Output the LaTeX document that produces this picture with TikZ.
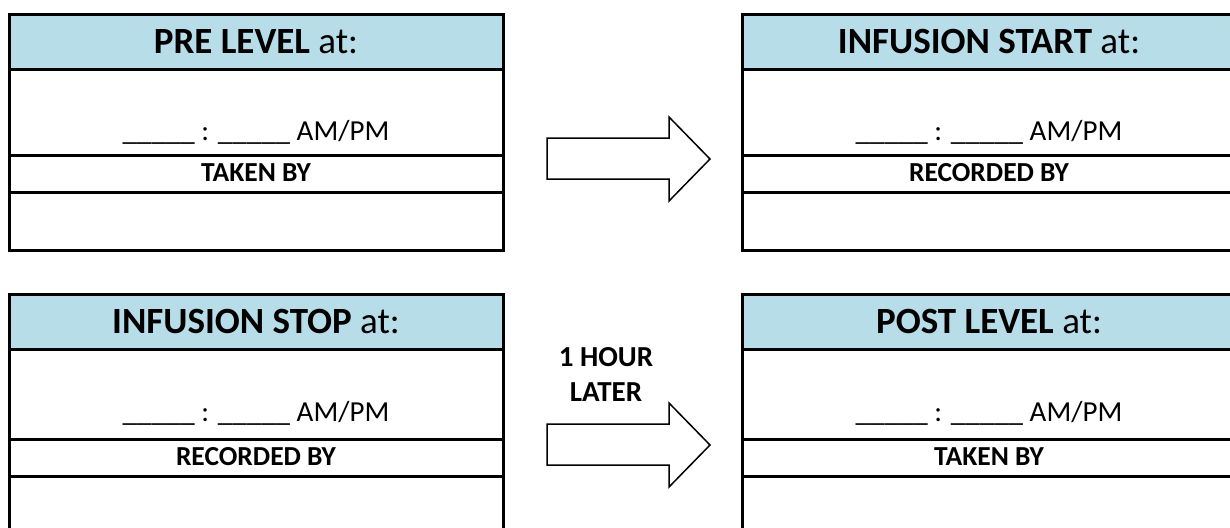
\documentclass[tikz,border=0pt]{standalone}
\usepackage{fontspec}
\setmainfont{Carlito}
\usetikzlibrary{positioning}
\definecolor{headblue}{HTML}{B7DDE8}
\newcommand{\Ttime}{\_\_\_\_\_ : \_\_\_\_\_ AM/PM}

\begin{document}
\begin{tikzpicture}[x=1pt,y=-1pt,
  row/.style={draw=black,line width=3pt,minimum width=494pt,outer sep=0pt,inner sep=0pt},
  headrow/.style={row,fill=headblue},
  headtxt/.style={anchor=base,inner sep=0pt,font=\fontsize{37}{42}\selectfont},
  byrow/.style={row,font=\bfseries\fontsize{27.5}{32}\selectfont,text depth=2pt},
  timetxt/.style={anchor=base,inner sep=0pt,font=\fontsize{29}{33}\selectfont},
  blockarrow/.style={draw=black,line width=1.5pt,fill=white,line join=miter}]
\clip (0,0) rectangle (1230,527);
% top left: pre level
\node (preH) [headrow,minimum height=54pt] at (256,42) {};
\node (preHt) [headtxt] at (256,54) {\textbf{PRE LEVEL} at:};
\node (preR) [row,minimum height=86pt] at (256,112) {};
\node (preT) [timetxt] at (256,140) {\Ttime};
\node (preB) [byrow,minimum height=37pt] at (256,173.5) {TAKEN BY};
\node (preE) [row,minimum height=58pt] at (256,221) {};
% top right: infusion start
\node (startH) [headrow,minimum height=54pt] at (989,42) {};
\node (startHt) [headtxt] at (989,54) {\textbf{INFUSION START} at:};
\node (startR) [row,minimum height=86pt] at (989,112) {};
\node (startT) [timetxt] at (989,140) {\Ttime};
\node (startB) [byrow,minimum height=37pt] at (989,173.5) {RECORDED BY};
\node (startE) [row,minimum height=58pt] at (989,221) {};
% bottom left: infusion stop
\node (stopH) [headrow,minimum height=55pt] at (256,321.5) {};
\node (stopHt) [headtxt] at (256,333) {\textbf{INFUSION STOP} at:};
\node (stopR) [row,minimum height=90pt] at (256,394) {};
\node (stopT) [timetxt] at (256,421) {\Ttime};
\node (stopB) [byrow,minimum height=37pt] at (256,457.5) {RECORDED BY};
\node (stopE) [row,minimum height=64pt] at (256,508) {};
% bottom right: post level
\node (postH) [headrow,minimum height=55pt] at (989,321.5) {};
\node (postHt) [headtxt] at (989,333) {\textbf{POST LEVEL} at:};
\node (postR) [row,minimum height=90pt] at (989,394) {};
\node (postT) [timetxt] at (989,421) {\Ttime};
\node (postB) [byrow,minimum height=37pt] at (989,457.5) {TAKEN BY};
\node (postE) [row,minimum height=64pt] at (989,508) {};
%
\node (later) [align=center,font=\bfseries\fontsize{29}{35}\selectfont] at (606,374) {1 HOUR\\LATER};
%
\draw[blockarrow] (547,138) -- (669,138) -- (669,117) -- (710,159) -- (669,201) -- (669,179) -- (547,179) -- cycle;
\draw[blockarrow] (547,424) -- (669,424) -- (669,403) -- (710,445) -- (669,487) -- (669,465) -- (547,465) -- cycle;
\end{tikzpicture}
\end{document}
